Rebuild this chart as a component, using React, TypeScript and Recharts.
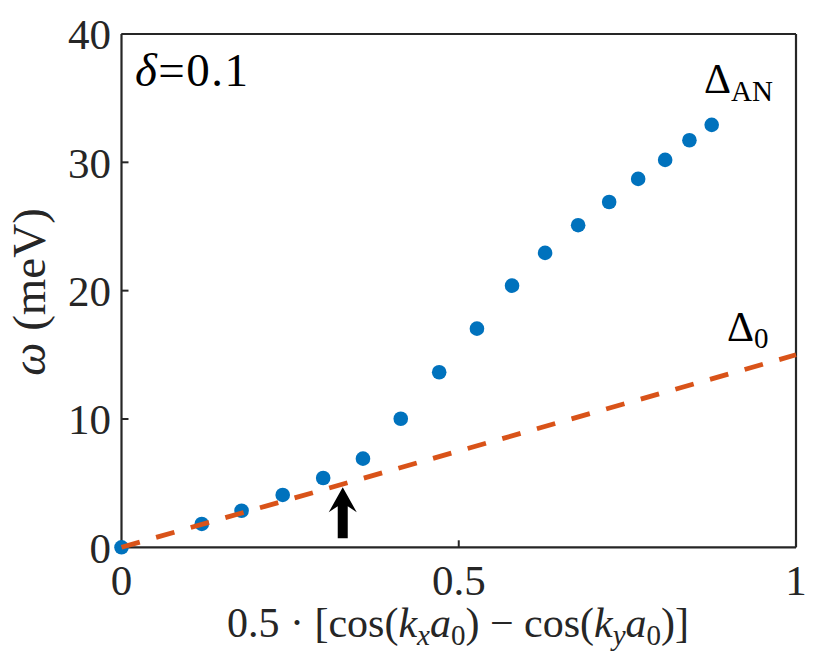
import { ScatterChart, Scatter, XAxis, YAxis, ReferenceDot } from 'recharts';

// blue dots: measured gap vs d-wave form factor
const formFactor = [0, 0.119, 0.178, 0.239, 0.299, 0.358, 0.414, 0.471, 0.527, 0.579, 0.628, 0.677, 0.723, 0.766, 0.806, 0.842, 0.875];
const omega = [0, 1.82, 2.85, 4.08, 5.4, 6.91, 10.02, 13.64, 17.04, 20.39, 22.94, 25.1, 26.91, 28.71, 30.19, 31.72, 32.92];

// dashed d-wave gap line
const gapX = [0, 1];
const gapY = [0, 15];

const xTicks = [0, 0.5, 1];
const yTicks = [0, 10, 20, 30, 40];

// arrow marking the crossing point
const arrowX = 0.328;
const arrowY = 4.68;

const points = formFactor.map((x, i) => ({ x, y: omega[i] }));
const gapLine = gapX.map((x, i) => ({ x, y: gapY[i] }));

const AXIS = '#262626';
const FONT = '"Liberation Serif", "DejaVu Serif", serif';

const tickStyle = { fill: AXIS, fontSize: 43, fontFamily: FONT };

const Dot = (p: any) => <circle cx={p.cx} cy={p.cy} r={7.3} fill="#0072BD" />;
const NoShape = () => <g />;
const NoTick = () => <g />;

const Arrow = (p: any) => {
  const { cx, cy } = p;
  const d = `M ${cx} ${cy} L ${cx + 14} ${cy + 25} L ${cx + 5} ${cy + 19} L ${cx + 5} ${cy + 51} L ${cx - 5} ${cy + 51} L ${cx - 5} ${cy + 19} L ${cx - 14} ${cy + 25} Z`;
  return <path d={d} fill="#000" />;
};

export default function App() {
  return (
    <div style={{ position: 'absolute', left: 0, top: 0, width: 831, height: 660, background: '#fff' }}>
      <ScatterChart width={831} height={660} margin={{ top: 0, right: 0, bottom: 0, left: 0 }}>
        <XAxis
          xAxisId="b"
          type="number"
          dataKey="x"
          domain={[0, 1]}
          ticks={xTicks}
          height={112.7}
          tickSize={-7}
          tickMargin={24}
          tick={tickStyle}
          axisLine={{ stroke: AXIS, strokeWidth: 2.2 }}
          tickLine={{ stroke: AXIS, strokeWidth: 2 }}
          tickFormatter={(v: number) => String(v)}
        />
        <XAxis
          xAxisId="t"
          orientation="top"
          type="number"
          domain={[0, 1]}
          ticks={xTicks}
          height={34}
          tickSize={-7}
          tick={NoTick}
          axisLine={{ stroke: AXIS, strokeWidth: 2.2 }}
          tickLine={{ stroke: AXIS, strokeWidth: 2 }}
        />
        <YAxis
          yAxisId="l"
          type="number"
          dataKey="y"
          domain={[0, 40]}
          ticks={yTicks}
          width={121.5}
          tickSize={-7}
          tickMargin={17.5}
          tick={tickStyle}
          axisLine={{ stroke: AXIS, strokeWidth: 2.2 }}
          tickLine={{ stroke: AXIS, strokeWidth: 2 }}
        />
        <YAxis
          yAxisId="r"
          orientation="right"
          type="number"
          domain={[0, 40]}
          ticks={yTicks}
          width={35}
          tickSize={-7}
          tick={NoTick}
          axisLine={{ stroke: AXIS, strokeWidth: 2.2 }}
          tickLine={{ stroke: AXIS, strokeWidth: 2 }}
        />
        <Scatter xAxisId="b" yAxisId="l" data={points} shape={Dot} isAnimationActive={false} />
        <Scatter
          xAxisId="b"
          yAxisId="l"
          data={gapLine}
          shape={NoShape}
          line={{ stroke: '#D95319', strokeWidth: 4.8, strokeDasharray: '19 17' }}
          lineType="joint"
          isAnimationActive={false}
        />
        <ReferenceDot xAxisId="b" yAxisId="l" x={arrowX} y={arrowY} shape={Arrow} />
      </ScatterChart>
      <svg width={831} height={660} style={{ position: 'absolute', left: 0, top: 0, pointerEvents: 'none' }}>
        <text x={135} y={86} fontFamily={FONT} fontSize={47} fill="#000" letterSpacing={1.5}>
          <tspan fontStyle="italic">δ</tspan>=0.1
        </text>
        <text x={704} y={93} fontFamily={FONT} fontSize={42} fill="#000">
          Δ<tspan fontSize={29} dy={8}>AN</tspan>
        </text>
        <text x={727} y={341} fontFamily={FONT} fontSize={42} fill="#000">
          Δ<tspan fontSize={29} dy={7}>0</tspan>
        </text>
        <text
          x={45}
          y={292}
          transform="rotate(-90 45 292)"
          textAnchor="middle"
          fontFamily={FONT}
          fontSize={47}
          fill={AXIS}
        >
          <tspan fontStyle="italic">ω</tspan> (meV)
        </text>
        <text x={458} y={637} textAnchor="middle" fontFamily={FONT} fontSize={42} fill={AXIS}>
          0.5 · [cos(<tspan fontStyle="italic">k</tspan>
          <tspan fontStyle="italic" fontSize={29} dy={8}>x</tspan>
          <tspan fontStyle="italic" dy={-8}>a</tspan>
          <tspan fontSize={29} dy={8}>0</tspan>
          <tspan dy={-8}>) − cos(</tspan>
          <tspan fontStyle="italic">k</tspan>
          <tspan fontStyle="italic" fontSize={29} dy={8}>y</tspan>
          <tspan fontStyle="italic" dy={-8}>a</tspan>
          <tspan fontSize={29} dy={8}>0</tspan>
          <tspan dy={-8}>)]</tspan>
        </text>
      </svg>
    </div>
  );
}
